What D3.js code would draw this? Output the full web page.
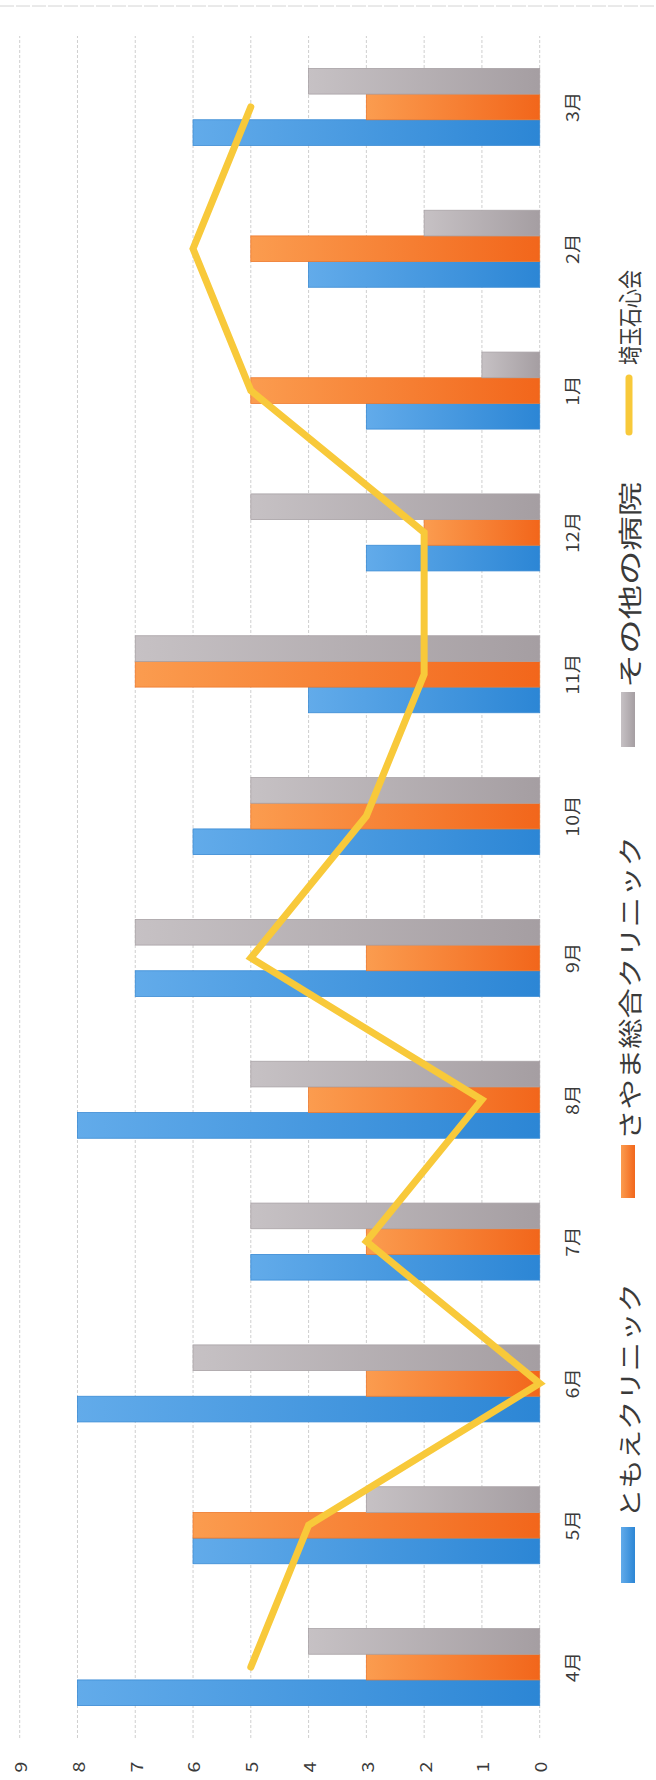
<!DOCTYPE html>
<html>
<head>
<meta charset="utf-8">
<script src="https://cdn.jsdelivr.net/npm/d3@7"></script>
<style>
  body { margin: 0; background: #ffffff; }
  svg { display: block; }
  text { font-family: "Noto Sans CJK JP", "Noto Sans", sans-serif; fill: #3a3a3a; }
</style>
</head>
<body>
<svg id="chart" width="656" height="1780"></svg>
<script>
// Monthly patient counts by hospital (April to March)
const months = ["4月", "5月", "6月", "7月", "8月", "9月", "10月", "11月", "12月", "1月", "2月", "3月"];
const seriesNames = ["ともえクリニック", "さやま総合クリニック", "その他の病院"];
const tomoe  = [8, 6, 8, 5, 8, 7, 6, 4, 3, 3, 4, 6];
const sayama = [3, 6, 3, 3, 4, 3, 5, 7, 2, 5, 5, 3];
const others = [4, 3, 6, 5, 5, 7, 5, 7, 5, 1, 2, 4];
const lineName = "埼玉石心会";
const saitama = [5, 4, 0, 3, 1, 5, 3, 2, 2, 5, 6, 5];
const valueTicks = [0, 1, 2, 3, 4, 5, 6, 7, 8, 9];

const seriesValues = [tomoe, sayama, others];
const barFill = [
  { id: "gBlue",   top: "#62abea", bottom: "#2c86d5", stroke: "#3a8bd4" },
  { id: "gOrange", top: "#fb9c4f", bottom: "#f2661b", stroke: "#ee7a2e" },
  { id: "gGray",   top: "#c6c1c4", bottom: "#a59ea2", stroke: "#a9a2a6" }
];
const lineColor = "#f8c93a";

// The chart is laid out upright (width 1780, height 656) and then turned
// a quarter turn counter-clockwise to fit the tall page.
const PAGE_H = 1780;
const svg = d3.select("#chart");

// faint page rule along the top edge
svg.append("line")
  .attr("x1", 0).attr("x2", 656).attr("y1", 6).attr("y2", 6)
  .attr("stroke", "#d4d4d4").attr("stroke-width", 1)
  .attr("stroke-dasharray", "14,2");

const defs = svg.append("defs");
barFill.forEach(f => {
  const g = defs.append("linearGradient").attr("id", f.id)
    .attr("x1", 0).attr("y1", 0).attr("x2", 0).attr("y2", 1);
  g.append("stop").attr("offset", "0%").attr("stop-color", f.top);
  g.append("stop").attr("offset", "100%").attr("stop-color", f.bottom);
});

const root = svg.append("g")
  .attr("transform", `translate(0,${PAGE_H}) rotate(-90)`);

const x0 = d3.scaleBand()
  .domain(months)
  .range([42, 1744])
  .paddingInner(0.457)
  .paddingOuter(0.2285);

const x1 = d3.scaleBand()
  .domain(seriesNames)
  .range([0, x0.bandwidth()]);

const y = d3.scaleLinear()
  .domain([0, 9])
  .range([539.7, 19.7]);

// helper: text squeezed/stretched horizontally (upright frame)
function label(parent, x, yPos, str, size, sx, anchor) {
  const g = parent.append("g").attr("transform", `translate(${x},${yPos}) scale(${sx},1)`);
  return g.append("text")
    .attr("x", 0).attr("y", 0)
    .attr("text-anchor", anchor || "middle")
    .attr("dominant-baseline", "central")
    .style("font-size", size + "px")
    .text(str);
}

// gridlines
const grid = root.append("g");
grid.selectAll("line").data(valueTicks).join("line")
  .attr("x1", x0.range()[0]).attr("x2", x0.range()[1])
  .attr("y1", d => y(d)).attr("y2", d => y(d))
  .attr("stroke", "#cfcfcf").attr("stroke-width", 1)
  .attr("stroke-dasharray", "3,2");

// value axis labels
const yAxis = root.append("g");
valueTicks.forEach(v => label(yAxis, 13, y(v), String(v), 17, 1.15));

// bars
const bars = root.append("g");
months.forEach((m, i) => {
  seriesNames.forEach((s, k) => {
    const v = seriesValues[k][i];
    bars.append("rect")
      .attr("x", x0(m) + x1(s))
      .attr("y", y(v))
      .attr("width", x1.bandwidth())
      .attr("height", y(0) - y(v))
      .attr("fill", `url(#${barFill[k].id})`)
      .attr("stroke", barFill[k].stroke)
      .attr("stroke-width", 0.8);
  });
});

// category labels
const xAxis = root.append("g");
months.forEach(m => label(xAxis, x0(m) + x0.bandwidth() / 2, 572, m, 17, 1.15));

// line series
const lineGen = d3.line()
  .x((d, i) => x0(months[i]) + x0.bandwidth() / 2)
  .y(d => y(d));
root.append("path")
  .datum(saitama)
  .attr("d", lineGen)
  .attr("fill", "none")
  .attr("stroke", lineColor)
  .attr("stroke-width", 7)
  .attr("stroke-linecap", "round")
  .attr("stroke-linejoin", "miter");

// legend
const legend = root.append("g");
const legendY = 628;
const legendItems = [
  { name: seriesNames[0], type: "bar", k: 0, sw: [197, 253], tx: [262, 497] },
  { name: seriesNames[1], type: "bar", k: 1, sw: [582, 635], tx: [640, 944] },
  { name: seriesNames[2], type: "bar", k: 2, sw: [1033, 1088], tx: [1092, 1298] },
  { name: lineName, type: "line", sw: [1348, 1402], tx: [1415, 1510] }
];
legendItems.forEach(it => {
  if (it.type === "bar") {
    legend.append("rect")
      .attr("x", it.sw[0]).attr("y", legendY - 7)
      .attr("width", it.sw[1] - it.sw[0]).attr("height", 14)
      .attr("fill", `url(#${barFill[it.k].id})`);
  } else {
    legend.append("line")
      .attr("x1", it.sw[0]).attr("x2", it.sw[1])
      .attr("y1", legendY + 1).attr("y2", legendY + 1)
      .attr("stroke", lineColor).attr("stroke-width", 7)
      .attr("stroke-linecap", "round");
  }
  legend.append("text")
    .attr("x", it.tx[0]).attr("y", legendY)
    .attr("dominant-baseline", "central")
    .attr("textLength", it.tx[1] - it.tx[0])
    .attr("lengthAdjust", "spacingAndGlyphs")
    .style("font-size", "24px")
    .text(it.name);
});
</script>
</body>
</html>
